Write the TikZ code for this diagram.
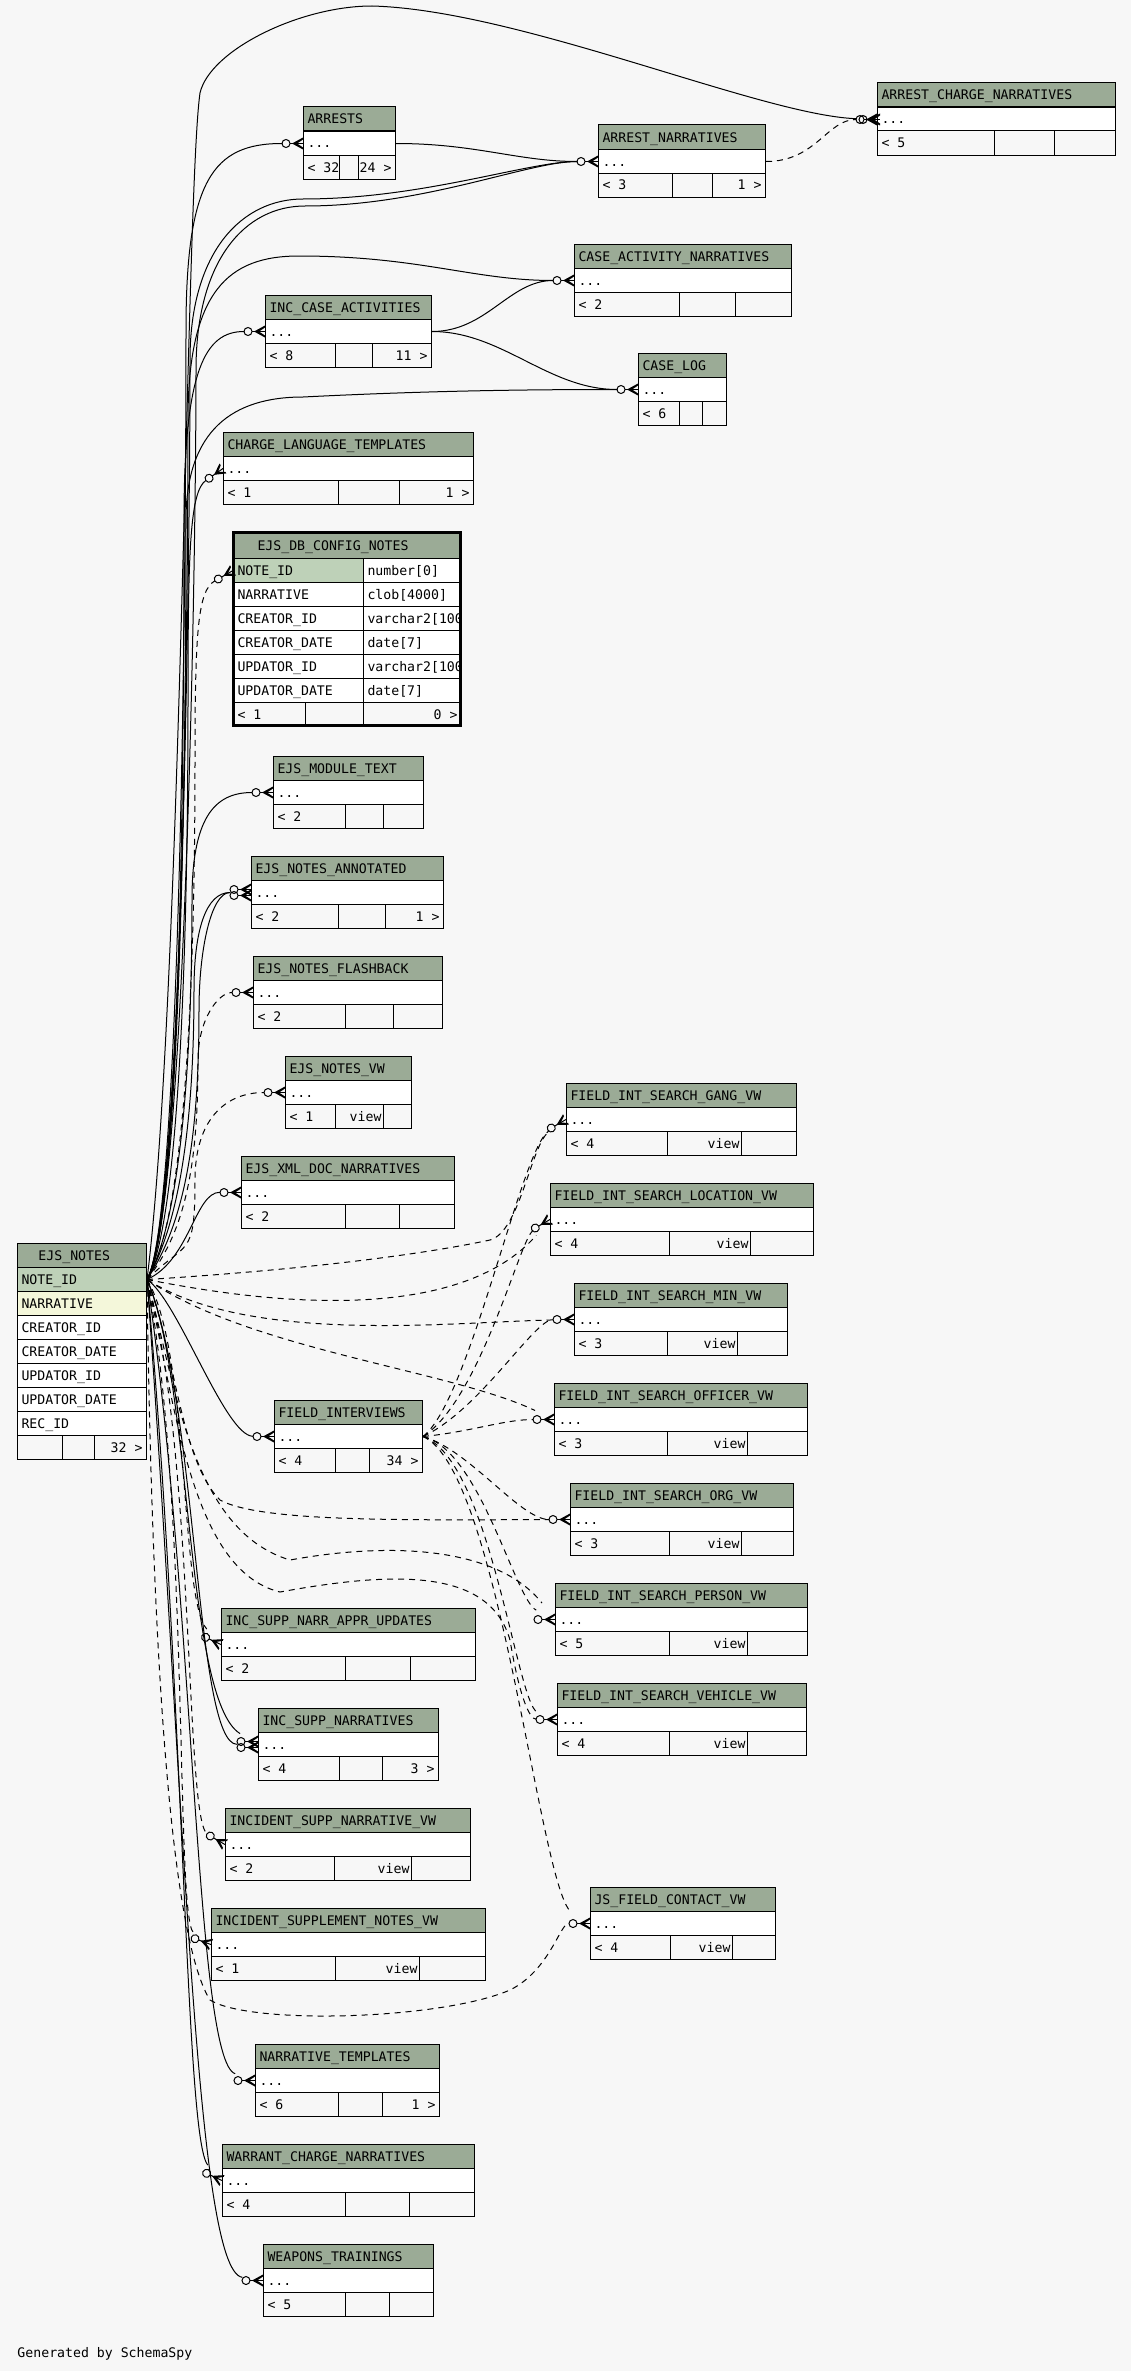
\documentclass[tikz,border=0pt]{standalone}
\usepackage{fontspec}
\usepackage{tikz}
\usetikzlibrary{calc,positioning}

\newfontfamily\erdmono{DejaVu Sans Mono}
\newcommand{\erdfont}{\erdmono\fontsize{6.6}{8}\selectfont}
\definecolor{erdbg}{HTML}{F7F7F7}
\definecolor{erdhead}{HTML}{9BAB96}
\definecolor{erdkey}{HTML}{BED1B8}
\definecolor{erdindex}{HTML}{F4F7DA}

% id, left, top, right, split one, split two, title, left text, right text
\newcommand{\erdtable}[9]{%
  \filldraw[fill=erdhead] (#2,#3) rectangle (#4,#3+24);
  \node[erdtext] at (#2+4,#3+17) {#7};
  \node[erdrow, minimum width={(#4-#2)*0.5pt}, anchor=north west] (#1) at (#2,#3+24) {};
  \node[erdtext] at (#2+4,#3+41) {...};
  \filldraw[fill=erdbg] (#2,#3+48) rectangle (#4,#3+72);
  \draw (#5,#3+48) -- (#5,#3+72) (#6,#3+48) -- (#6,#3+72);
  \node[erdtext] at (#2+4,#3+65) {#8};
  \node[erdtext, anchor=base east] at (#4-3,#3+65) {#9};
}
\newcommand{\erdview}[8]{%
  \erdtable{#1}{#2}{#3}{#4}{#5}{#6}{#7}{#8}{}
  \node[erdtext, anchor=base east] at (#6-1,#3+65) {view};
}
\newcommand{\erdcell}[5]{%
  \filldraw[fill=#5] (#1,#3) rectangle (#2,#3+24);
  \node[erdtext] at (#1+4,#3+17) {#4};
}

\begin{document}
\begin{tikzpicture}[x=0.5pt, y=-0.5pt, line width=0.5pt,
  erdtext/.style={anchor=base west, inner sep=0pt, font=\erdfont},
  erdrow/.style={draw, fill=white, minimum height=12pt, inner sep=0pt},
  fk/.style={shorten >=10.5pt},
  implied/.style={fk, dash pattern=on 3pt off 2.5pt},
  crowo/.pic={
    \draw[solid] (-8.5pt,0) circle[radius=2pt];
    \draw[solid] (-6.5pt,0) -- (0,0);
    \fill (-5.5pt,0) -- (0,3pt) -- (0,2pt) -- (-3pt,0) -- (0,-2pt) -- (0,-3pt) -- cycle;
  }]

  \path[use as bounding box, fill=erdbg] (0,0) rectangle (1131,2371);

  % the tables
  \node[erdrow, fill=erdkey, minimum width=64.5pt, anchor=north west] (notes) at (17,1267) {};
  \erdtable{arrests}{303}{107}{395}{339}{358}{ARRESTS}{< 32}{24 >}
  \erdtable{an}{598}{125}{765}{672}{712}{ARREST\_NARRATIVES}{< 3}{1 >}
  \erdtable{acn}{877}{83}{1115}{994}{1054}{ARREST\_CHARGE\_NARRATIVES}{< 5}{}
  \erdtable{can}{574}{244}{791}{679}{735}{CASE\_ACTIVITY\_NARRATIVES}{< 2}{}
  \erdtable{ica}{265}{295}{431}{335}{372}{INC\_CASE\_ACTIVITIES}{< 8}{11 >}
  \erdtable{cl}{638}{353}{726}{679}{702}{CASE\_LOG}{< 6}{}
  \erdtable{clt}{223}{432}{473}{338}{399}{CHARGE\_LANGUAGE\_TEMPLATES}{< 1}{1 >}
  \erdtable{emt}{273}{756}{423}{345}{383}{EJS\_MODULE\_TEXT}{< 2}{}
  \erdtable{ena}{251}{856}{443}{338}{385}{EJS\_NOTES\_ANNOTATED}{< 2}{1 >}
  \erdtable{enf}{253}{956}{442}{345}{393}{EJS\_NOTES\_FLASHBACK}{< 2}{}
  \erdview{envw}{285}{1056}{411}{335}{383}{EJS\_NOTES\_VW}{< 1}
  \erdtable{exdn}{241}{1156}{454}{345}{399}{EJS\_XML\_DOC\_NARRATIVES}{< 2}{}
  \erdview{gang}{566}{1083}{796}{667}{741}{FIELD\_INT\_SEARCH\_GANG\_VW}{< 4}
  \erdview{loc}{550}{1183}{813}{669}{750}{FIELD\_INT\_SEARCH\_LOCATION\_VW}{< 4}
  \erdview{min}{574}{1283}{787}{667}{737}{FIELD\_INT\_SEARCH\_MIN\_VW}{< 3}
  \erdview{off}{554}{1383}{807}{667}{747}{FIELD\_INT\_SEARCH\_OFFICER\_VW}{< 3}
  \erdview{org}{570}{1483}{793}{669}{741}{FIELD\_INT\_SEARCH\_ORG\_VW}{< 3}
  \erdview{per}{555}{1583}{807}{669}{747}{FIELD\_INT\_SEARCH\_PERSON\_VW}{< 5}
  \erdview{veh}{557}{1683}{806}{669}{747}{FIELD\_INT\_SEARCH\_VEHICLE\_VW}{< 4}
  \erdtable{fi}{274}{1400}{422}{335}{369}{FIELD\_INTERVIEWS}{< 4}{34 >}
  \erdtable{isnau}{221}{1608}{475}{345}{410}{INC\_SUPP\_NARR\_APPR\_UPDATES}{< 2}{}
  \erdtable{isn}{258}{1708}{438}{339}{382}{INC\_SUPP\_NARRATIVES}{< 4}{3 >}
  \erdview{isnvw}{225}{1808}{470}{334}{411}{INCIDENT\_SUPP\_NARRATIVE\_VW}{< 2}
  \erdview{isnotes}{211}{1908}{485}{335}{419}{INCIDENT\_SUPPLEMENT\_NOTES\_VW}{< 1}
  \erdview{jsfc}{590}{1887}{775}{670}{732}{JS\_FIELD\_CONTACT\_VW}{< 4}
  \erdtable{nt}{255}{2044}{439}{338}{382}{NARRATIVE\_TEMPLATES}{< 6}{1 >}
  \erdtable{wcn}{222}{2144}{474}{345}{409}{WARRANT\_CHARGE\_NARRATIVES}{< 4}{}
  \erdtable{wt}{263}{2244}{433}{345}{389}{WEAPONS\_TRAININGS}{< 5}{}

  % EJS_DB_CONFIG_NOTES
  \filldraw[fill=erdhead] (233,532) rectangle (461,558);
  \node[erdtext] at (257,550) {EJS\_DB\_CONFIG\_NOTES};
  \node[erdrow, fill=erdkey, minimum width=65pt, anchor=north west] (cfg) at (233,558) {};
  \node[erdtext] at (237,575) {NOTE\_ID};
  \begin{scope}
    \clip (233,532) rectangle (461,726);
    \erdcell{363}{461}{558}{number[0]}{white}
    \erdcell{233}{363}{582}{NARRATIVE}{white}
    \erdcell{363}{461}{582}{clob[4000]}{white}
    \erdcell{233}{363}{606}{CREATOR\_ID}{white}
    \erdcell{363}{461}{606}{varchar2[100]}{white}
    \erdcell{233}{363}{630}{CREATOR\_DATE}{white}
    \erdcell{363}{461}{630}{date[7]}{white}
    \erdcell{233}{363}{654}{UPDATOR\_ID}{white}
    \erdcell{363}{461}{654}{varchar2[100]}{white}
    \erdcell{233}{363}{678}{UPDATOR\_DATE}{white}
    \erdcell{363}{461}{678}{date[7]}{white}
  \end{scope}
  \filldraw[fill=erdbg] (233,702) rectangle (461,726);
  \draw (305,702) -- (305,726) (363,702) -- (363,726);
  \node[erdtext] at (237,719) {< 1};
  \node[erdtext, anchor=base east] at (458,719) {0 >};
  \draw[line width=1.5pt] (233.5,532.5) rectangle (460.5,725.5);

  % EJS_NOTES
  \filldraw[fill=erdhead] (17,1243) rectangle (146,1267);
  \node[erdtext] at (38,1260) {EJS\_NOTES};
  \node[erdtext] at (21,1284) {NOTE\_ID};
  \erdcell{17}{146}{1291}{NARRATIVE}{erdindex}
  \erdcell{17}{146}{1315}{CREATOR\_ID}{white}
  \erdcell{17}{146}{1339}{CREATOR\_DATE}{white}
  \erdcell{17}{146}{1363}{UPDATOR\_ID}{white}
  \erdcell{17}{146}{1387}{UPDATOR\_DATE}{white}
  \erdcell{17}{146}{1411}{REC\_ID}{white}
  \filldraw[fill=erdbg] (17,1435) rectangle (146,1459);
  \draw (62,1435) -- (62,1459) (94,1435) -- (94,1459);
  \node[erdtext, anchor=base east] at (143,1452) {32 >};

  % relations going up
  \draw[fk] (notes.east) .. controls (182,1000) and (186,190) .. (200,93) .. controls (210,50) and (300,6) .. (372,6) .. controls (520,10) and (760,115) .. (acn.west);
  \draw[fk] (notes.east) .. controls +(35,-60) and +(0,200) .. (186,330) .. controls +(0,-150) and +(-90,0) .. (arrests.west);
  \draw[fk] (arrests.east) .. controls +(80,0) and +(-80,0) .. (an.west);
  \draw[fk] (notes.east) .. controls +(35,-60) and +(0,200) .. (190,360) .. controls +(0,-110) and +(-60,0) .. (303,199) .. controls +(120,0) and +(-70,0) .. (an.west);
  \draw[fk] (notes.east) .. controls +(38,-60) and +(0,200) .. (196,370) .. controls +(0,-110) and +(-60,0) .. (305,206) .. controls +(120,0) and +(-70,0) .. (an.west);
  \draw[implied] (an.east) .. controls +(50,0) and +(-50,0) .. (acn.west);
  \draw[fk] (notes.east) .. controls +(35,-60) and +(0,200) .. (188,420) .. controls +(0,-130) and +(-70,0) .. (299,256) .. controls +(120,0) and +(-100,0) .. (can.west);
  \draw[fk] (ica.east) .. controls +(55,0) and +(-65,0) .. (can.west);
  \draw[fk] (ica.east) .. controls +(70,0) and +(-90,0) .. (cl.west);
  \draw[fk] (notes.east) .. controls +(35,-60) and +(0,200) .. (186,520) .. controls +(0,-90) and +(-70,0) .. (303,397) .. controls +(120,-6) and +(-120,0) .. (cl.west);
  \draw[fk] (notes.east) .. controls +(35,-60) and +(0,200) .. (184,520) .. controls +(0,-150) and +(-60,0) .. (ica.west);
  \draw[fk] (notes.east) .. controls +(35,-60) and +(0,200) .. (188,700) .. controls +(0,-150) and +(-33,23) .. (clt.west);
  \draw[implied] (notes.east) .. controls +(40,-60) and +(0,200) .. (195,760) .. controls +(0,-130) and +(-35,20) .. (cfg.west);
  \draw[fk] (notes.east) .. controls +(35,-60) and +(0,150) .. (192,900) .. controls +(0,-80) and +(-60,0) .. (emt.west);
  \draw[fk] (notes.east) .. controls +(35,-60) and +(0,120) .. (194,990) .. controls +(0,-60) and +(-45,0) .. (ena.west);
  \draw[fk] (notes.east) .. controls +(40,-60) and +(0,120) .. (199,1010) .. controls +(0,-60) and +(-40,0) .. (ena.west);
  \draw[implied] (notes.east) .. controls +(40,-50) and +(0,100) .. (198,1060) .. controls +(0,-40) and +(-35,0) .. (enf.west);
  \draw[implied] (notes.east) .. controls +(40,-40) and +(0,80) .. (195,1180) .. controls +(0,-60) and +(-60,0) .. (envw.west);
  \draw[fk] (notes.east) .. controls (190,1260) and (195,1192) .. (exdn.west);

  % relations going down
  \draw[fk] (notes.east) .. controls (178,1300) and (225,1436) .. (fi.west);
  \draw[implied] (notes.east) .. controls (190,1350) and (180,1600) .. (isnau.west);
  \draw[fk] (notes.east) .. controls (192,1380) and (185,1700) .. (isn.west);
  \draw[fk] (notes.east) .. controls (198,1400) and (195,1744) .. (isn.west);
  \draw[implied] (notes.east) .. controls (195,1450) and (185,1820) .. (isnvw.west);
  \draw[implied] (notes.east) .. controls (190,1500) and (175,1920) .. (isnotes.west);
  \draw[fk] (notes.east) .. controls (195,1600) and (195,2060) .. (nt.west);
  \draw[fk] (notes.east) .. controls (185,1700) and (185,2140) .. (wcn.west);
  \draw[fk] (notes.east) .. controls (185,1800) and (195,2270) .. (wt.west);

  % views on the notes
  \draw[implied] (notes.east) .. controls (300,1270) and (420,1255) .. (490,1240) .. controls (520,1232) and +(-35,25) .. (gang.west);
  \draw[implied] (notes.east) .. controls (350,1320) and (480,1300) .. (loc.west);
  \draw[implied] (notes.east) .. controls (250,1345) and (450,1322) .. (min.west);
  \draw[implied] (notes.east) .. controls (250,1350) and (450,1370) .. (off.west);
  \draw[implied] (notes.east) .. controls (175,1350) and (180,1460) .. (220,1500) .. controls (260,1522) and (400,1520) .. (org.west);
  \draw[implied] (notes.east) .. controls (175,1380) and (190,1530) .. (290,1560) .. controls (400,1540) and (500,1550) .. (per.west);
  \draw[implied] (notes.east) .. controls (175,1400) and (190,1570) .. (280,1592) .. controls (400,1570) and (490,1570) .. (510,1640) .. controls (520,1700) and (530,1719) .. (veh.west);
  \draw[implied] (notes.east) .. controls (150,1500) and (160,1920) .. (210,2000) .. controls (250,2025) and (440,2020) .. (510,1990) .. controls (550,1970) and (560,1923) .. (jsfc.west);

  % views on the interviews
  \draw[implied] (fi.east) .. controls (470,1400) and +(-45,30) .. (gang.west);
  \draw[implied] (fi.east) .. controls (480,1400) and +(-30,20) .. (loc.west);
  \draw[implied] (fi.east) .. controls (480,1410) and +(-40,0) .. (min.west);
  \draw[implied] (fi.east) .. controls (470,1432) and +(-50,0) .. (off.west);
  \draw[implied] (fi.east) .. controls (470,1450) and +(-50,0) .. (org.west);
  \draw[implied] (fi.east) .. controls (480,1450) and +(-40,-20) .. (per.west);
  \draw[implied] (fi.east) .. controls (490,1460) and +(-40,-15) .. (veh.west);
  \draw[implied] (fi.east) .. controls (500,1470) and +(-50,-30) .. (jsfc.west);

  % crow's feet
  \pic at (acn.west) {crowo};
  \pic at ([xshift=1.5pt]acn.west) {crowo};
  \pic at (arrests.west) {crowo};
  \pic at (an.west) {crowo};
  \pic at (can.west) {crowo};
  \pic at (ica.west) {crowo};
  \pic at (cl.west) {crowo};
  \pic[rotate=35] at (clt.west) {crowo};
  \pic[rotate=30] at (cfg.west) {crowo};
  \pic at (emt.west) {crowo};
  \pic at ([yshift=1.5pt]ena.west) {crowo};
  \pic at ([yshift=-1.5pt]ena.west) {crowo};
  \pic at (enf.west) {crowo};
  \pic at (envw.west) {crowo};
  \pic at (exdn.west) {crowo};
  \pic at (fi.west) {crowo};
  \pic[rotate=30] at (gang.west) {crowo};
  \pic[rotate=30] at (loc.west) {crowo};
  \pic at (min.west) {crowo};
  \pic at (off.west) {crowo};
  \pic at (org.west) {crowo};
  \pic at (per.west) {crowo};
  \pic at (veh.west) {crowo};
  \pic at (jsfc.west) {crowo};
  \pic[rotate=-25] at (isnau.west) {crowo};
  \pic at ([yshift=1.5pt]isn.west) {crowo};
  \pic at ([yshift=-1.5pt]isn.west) {crowo};
  \pic[rotate=-30] at (isnvw.west) {crowo};
  \pic[rotate=-20] at (isnotes.west) {crowo};
  \pic at (nt.west) {crowo};
  \pic[rotate=-25] at (wcn.west) {crowo};
  \pic at (wt.west) {crowo};

  \node[erdtext] (credit) at (17,2357) {Generated by SchemaSpy};
\end{tikzpicture}
\end{document}
